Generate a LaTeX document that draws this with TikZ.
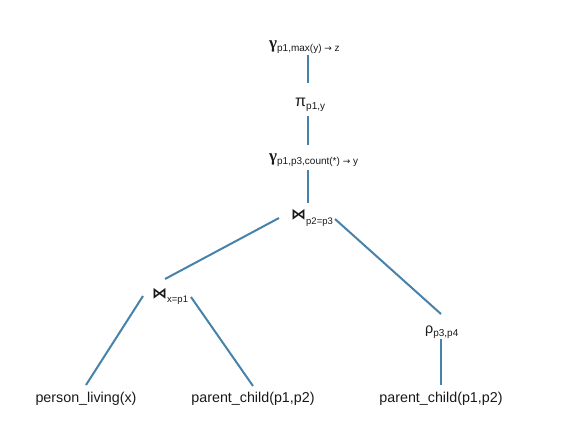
\documentclass[tikz,border=0pt]{standalone}
\usepackage{fontspec}
\setmainfont{Liberation Sans}
\newfontfamily\symfont{DejaVu Sans}
\newfontfamily\gamfont{Liberation Serif}
\definecolor{edgeblue}{RGB}{70,130,170}
\newcommand\subsz{\fontsize{10}{12}\selectfont}
\newcommand\arr{{\symfont\fontsize{9}{10}\selectfont →}}
\newcommand\opsub[2]{#1\raisebox{-3pt}{\subsz #2}}
\newcommand\bowsym{{\symfont\bfseries\fontsize{15}{17}\selectfont ⋈}}
\begin{document}
\begin{tikzpicture}[x=1pt,y=-1pt,
  lab/.style={inner sep=0pt,font=\fontsize{14.3}{16}\selectfont,text=black!90},
  op/.style={lab,anchor=west},
  edge/.style={draw=edgeblue,line width=2pt}]
\useasboundingbox (0,0) rectangle (581,432);
% operator nodes
\node[op] (g1) at (269,47) {\opsub{{\gamfont\bfseries\fontsize{17}{18}\selectfont γ}}{p1,max(y) \arr\ z}};
\node[op] (pi) at (295,105) {\opsub{{\fontsize{16}{18}\selectfont π}}{p1,y}};
\node[op] (g2) at (269,160) {\opsub{{\gamfont\bfseries\fontsize{17}{18}\selectfont γ}}{p1,p3,count(*) \arr\ y}};
\node[op] (j1) at (291,218) {\bowsym\raisebox{-5pt}{\fontsize{9.5}{11}\selectfont p2=p3}};
\node[op] (j2) at (152,296) {\bowsym\raisebox{-4pt}{\fontsize{9.5}{11}\selectfont x=p1}};
\node[op] (rho) at (425,332) {\opsub{ρ}{p3,p4}};
% leaves
\node[lab] (l1) at (86,399) {person\_living(x)};
\node[lab] (l2) at (253,399) {parent\_child(p1,p2)};
\node[lab] (l3) at (441,399) {parent\_child(p1,p2)};
% connectors
\draw[edge] ([shift={(39,8)}]g1.west) -- ([shift={(13,-22)}]pi.west);
\draw[edge] ([shift={(13,11)}]pi.west) -- ([shift={(39,-15)}]g2.west);
\draw[edge] ([shift={(39,10)}]g2.west) -- ([shift={(17,-15)}]j1.west);
\draw[edge] ([shift={(-12,0)}]j1.west) -- ([shift={(13,-17)}]j2.west);
\draw[edge] ([shift={(44,1)}]j1.west) -- ([shift={(16,-18)}]rho.west);
\draw[edge] ([shift={(-9,0)}]j2.west) -- ([shift={(0,-14)}]l1.center);
\draw[edge] ([shift={(39,1)}]j2.west) -- ([shift={(0,-13)}]l2.center);
\draw[edge] ([shift={(16,7)}]rho.west) -- ([shift={(0,-14)}]l3.center);
\end{tikzpicture}
\end{document}
